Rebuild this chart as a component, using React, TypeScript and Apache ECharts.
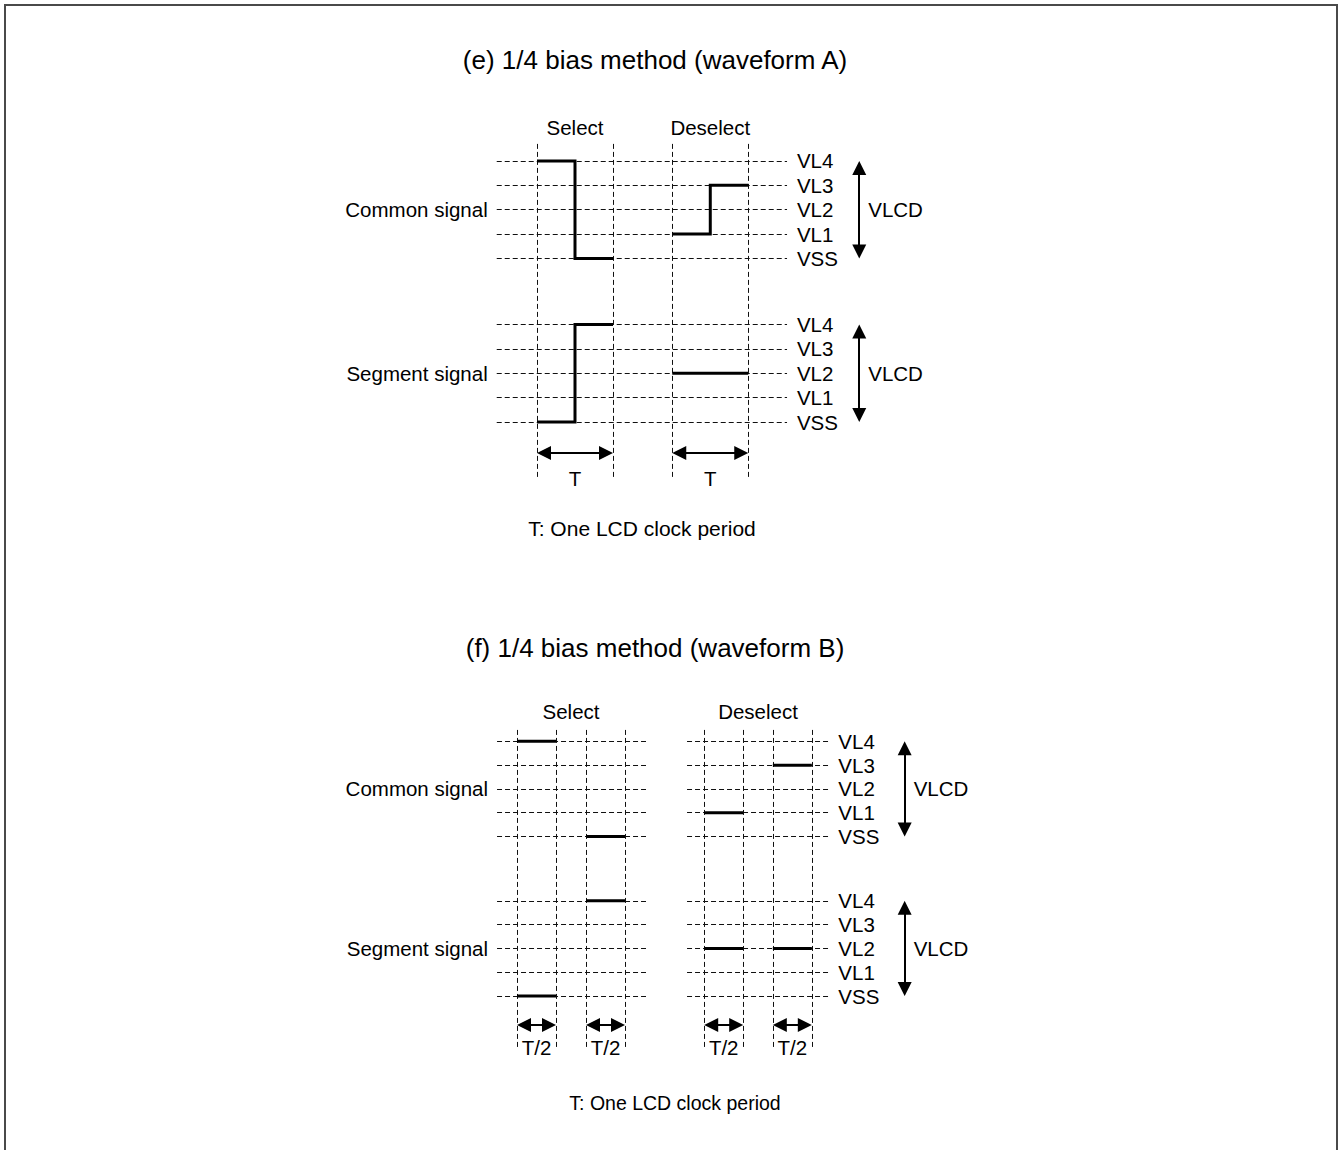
import React, { useEffect, useRef } from "react";
import * as echarts from "echarts";

// ---- data ----
const LEVELS = ["VSS", "VL1", "VL2", "VL3", "VL4"];
const SIGNALS = ["Common signal", "Segment signal"];
const PHASES = ["Select", "Deselect"];
// voltage level (index into LEVELS) for each half of the LCD clock period
const COMMON_SELECT = [4, 0];
const COMMON_DESELECT = [1, 3];
const SEGMENT_SELECT = [0, 4];
const SEGMENT_DESELECT = [2, 2];
const TITLES = ["(e) 1/4 bias method (waveform A)", "(f) 1/4 bias method (waveform B)"];
const PERIOD_LABELS = ["T", "T/2"];
const FOOTNOTE = "T: One LCD clock period";
const SWING_LABEL = "VLCD";

const WAVES = [
  [COMMON_SELECT, COMMON_DESELECT],
  [SEGMENT_SELECT, SEGMENT_DESELECT],
];

// ---- layout ----
const FONT = "'Liberation Sans', Arial, sans-serif";
const BLOCK_OFFSET = 6.7; // common block sits above segment block (level units)
const HEAD = 14; // arrow head size in px

const PANELS = [
  {
    x0Px: 537, pxPerT: 76, y0Px: 422, pxPerLevel: 24.4,
    xMin: -3, xMax: 6, yMin: -4, yMax: 13,
    titleX: 655, titleY: 60, footerX: 642, footerY: 528, footerSize: 21,
    slots: [[[0, 1]], [[1.78, 2.78]]],
    gridSpans: [[-0.53, 3.29]],
    vRange: [-2.25, 11.48],
    phaseLabelY: 12.09,
    arrowY: -1.27, arrowTextY: -2.3,
    levelLabelX: 3.42, swingX: 4.24,
  },
  {
    x0Px: 517, pxPerT: 78, y0Px: 996, pxPerLevel: 23.8,
    xMin: -3, xMax: 6, yMin: -4, yMax: 13,
    titleX: 655, titleY: 648, footerX: 675, footerY: 1103, footerSize: 19.5,
    slots: [[[0, 0.5], [0.885, 1.385]], [[2.4, 2.9], [3.28, 3.78]]],
    gridSpans: [[-0.256, 1.654], [2.18, 4.01]],
    vRange: [-2.14, 11.3],
    phaseLabelY: 11.97,
    arrowY: -1.22, arrowTextY: -2.18,
    levelLabelX: 4.12, swingX: 4.97,
  },
];

function buildOption() {
  const grid: any[] = [];
  const xAxis: any[] = [];
  const yAxis: any[] = [];
  const series: any[] = [];

  PANELS.forEach((p, i) => {
    grid.push({
      left: p.x0Px + p.xMin * p.pxPerT,
      width: (p.xMax - p.xMin) * p.pxPerT,
      top: p.y0Px - p.yMax * p.pxPerLevel,
      height: (p.yMax - p.yMin) * p.pxPerLevel,
    });
    xAxis.push({ type: "value", gridIndex: i, min: p.xMin, max: p.xMax, show: false });
    yAxis.push({ type: "value", gridIndex: i, min: p.yMin, max: p.yMax, show: false });

    const dashed: any[] = [];
    // horizontal level lines
    SIGNALS.forEach((_, b) => {
      const base = b === 0 ? BLOCK_OFFSET : 0;
      LEVELS.forEach((_, l) => {
        p.gridSpans.forEach(([a, c]) => {
          dashed.push({ coords: [[a, base + l], [c, base + l]] });
        });
      });
    });
    // vertical slot boundaries
    p.slots.forEach((phase) =>
      phase.forEach(([s, e]) => {
        dashed.push({ coords: [[s, p.vRange[0]], [s, p.vRange[1]]] });
        dashed.push({ coords: [[e, p.vRange[0]], [e, p.vRange[1]]] });
      })
    );
    series.push({
      type: "lines",
      coordinateSystem: "cartesian2d",
      xAxisIndex: i,
      yAxisIndex: i,
      silent: true,
      z: 1,
      lineStyle: { color: "#111", width: 1, type: [5, 3], opacity: 1 },
      data: dashed,
    });

    // waveforms
    const waves: any[] = [];
    WAVES.forEach((phases, b) => {
      const base = b === 0 ? BLOCK_OFFSET : 0;
      phases.forEach((halves, ph) => {
        const slots = p.slots[ph];
        if (slots.length === 1) {
          const [s, e] = slots[0];
          const h = (e - s) / halves.length;
          const pts: number[][] = [];
          halves.forEach((lv, k) => {
            pts.push([s + k * h, base + lv]);
            pts.push([s + (k + 1) * h, base + lv]);
          });
          waves.push({ coords: pts });
        } else {
          halves.forEach((lv, k) => {
            const [s, e] = slots[k];
            waves.push({ coords: [[s, base + lv], [e, base + lv]] });
          });
        }
      });
    });
    series.push({
      type: "lines",
      coordinateSystem: "cartesian2d",
      xAxisIndex: i,
      yAxisIndex: i,
      polyline: true,
      silent: true,
      z: 3,
      lineStyle: { color: "#000", width: 3, opacity: 1, cap: "butt", join: "miter" },
      data: waves,
    });

    // arrows: period arrows and VLCD arrows
    const arrows: any[] = [];
    const hx = HEAD / 2 / p.pxPerT;
    const hy = HEAD / 2 / p.pxPerLevel;
    p.slots.forEach((phase) =>
      phase.forEach(([s, e]) => {
        arrows.push({ coords: [[s + hx, p.arrowY], [e - hx, p.arrowY]] });
      })
    );
    SIGNALS.forEach((_, b) => {
      const base = b === 0 ? BLOCK_OFFSET : 0;
      arrows.push({ coords: [[p.swingX, base + 4 - hy], [p.swingX, base + hy]] });
    });
    series.push({
      type: "lines",
      coordinateSystem: "cartesian2d",
      xAxisIndex: i,
      yAxisIndex: i,
      silent: true,
      z: 4,
      symbol: ["triangle", "triangle"],
      symbolSize: HEAD,
      lineStyle: { color: "#000", width: 2, opacity: 1 },
      itemStyle: { color: "#000" },
      data: arrows,
    });
  });

  return {
    animation: false,
    backgroundColor: "#fff",
    grid,
    xAxis,
    yAxis,
    series,
  };
}

function buildGraphics(chart: echarts.ECharts) {
  const els: any[] = [];
  const txt = (x: number, y: number, text: string, size: number, align = "center") =>
    els.push({
      type: "text",
      x,
      y,
      silent: true,
      z: 10,
      style: {
        text,
        fontSize: size,
        fontFamily: FONT,
        fill: "#000",
        align,
        verticalAlign: "middle",
      },
    });

  // outer frame
  els.push({
    type: "rect",
    shape: { x: 5, y: 5, width: 1332, height: 1200 },
    silent: true,
    style: { fill: "none", stroke: "#4a4a4a", lineWidth: 2 },
  });

  PANELS.forEach((p, i) => {
    const px = (x: number, y: number) => chart.convertToPixel({ gridIndex: i }, [x, y]) as number[];
    txt(p.titleX, p.titleY, TITLES[i], 26);
    txt(p.footerX, p.footerY, FOOTNOTE, p.footerSize);

    PHASES.forEach((name, ph) => {
      const slots = p.slots[ph];
      const mid = (slots[0][0] + slots[slots.length - 1][1]) / 2;
      const [x, y] = px(mid, p.phaseLabelY);
      txt(x, y, name, 20.5);
      slots.forEach(([s, e]) => {
        const [ax, ay] = px((s + e) / 2, p.arrowTextY);
        txt(ax, ay, PERIOD_LABELS[i], 20.5);
      });
    });

    SIGNALS.forEach((name, b) => {
      const base = b === 0 ? BLOCK_OFFSET : 0;
      const [sx, sy] = px(p.gridSpans[0][0], base + 2);
      txt(sx - 9, sy, name, 20.5, "right");
      LEVELS.forEach((lv, l) => {
        const [lx, ly] = px(p.levelLabelX, base + l);
        txt(lx, ly, lv, 20.5, "left");
      });
      const [vx, vy] = px(p.swingX, base + 2);
      txt(vx + 9, vy, SWING_LABEL, 20.5, "left");
    });
  });
  return els;
}

export default function App() {
  const ref = useRef<HTMLDivElement>(null);
  useEffect(() => {
    if (!ref.current) return;
    const chart = echarts.init(ref.current, null, { renderer: "svg" });
    chart.setOption(buildOption() as any);
    chart.setOption({ graphic: buildGraphics(chart) } as any);
    return () => chart.dispose();
  }, []);
  return (
    <div
      ref={ref}
      style={{ position: "absolute", left: 0, top: 0, width: 1339, height: 1150, background: "#fff" }}
    />
  );
}
